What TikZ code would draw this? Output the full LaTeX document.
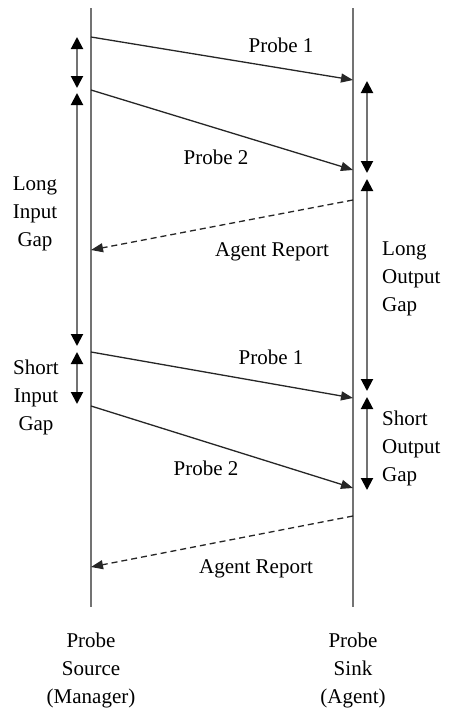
\documentclass[tikz,border=0pt]{standalone}
\usepackage{fontspec}
\setmainfont{Liberation Serif}
\usetikzlibrary{arrows.meta}
\begin{document}
\begin{tikzpicture}[x=1pt,y=-1pt,
  lifeline/.style={draw=black!55,line width=2pt},
  msg/.style={draw=black!85,line width=1.3pt,-{Triangle[length=12pt,width=9pt]}},
  report/.style={msg,dashed,dash pattern=on 6pt off 4pt},
  gap/.style={draw=black!55,line width=2pt,{Triangle[length=12pt,width=12pt,color=black]}-{Triangle[length=12pt,width=12pt,color=black]}},
  lbl/.style={font=\fontsize{21}{28}\selectfont,inner sep=0pt},
  gaplbl/.style={lbl,align=center},
  gaplblr/.style={lbl,align=left,anchor=west}]
\useasboundingbox[fill=white] (0,0) rectangle (448,712);
% lifelines
\coordinate (sTop) at (91,8);  \coordinate (sBot) at (91,607);
\coordinate (kTop) at (353,8); \coordinate (kBot) at (353,607);
\draw[lifeline] (sTop) -- (sBot);
\draw[lifeline] (kTop) -- (kBot);
% message end points
\coordinate (s1) at (91,37);  \coordinate (k1) at (353,80);
\coordinate (s2) at (91,90);  \coordinate (k2) at (353,170);
\coordinate (k3) at (353,200); \coordinate (s3) at (91,250);
\coordinate (s4) at (91,352); \coordinate (k4) at (353,398);
\coordinate (s5) at (91,406); \coordinate (k5) at (353,488);
\coordinate (k6) at (353,516); \coordinate (s6) at (91,567);
\draw[msg] (s1) -- (k1);
\draw[msg] (s2) -- (k2);
\draw[report] (k3) -- (s3);
\draw[msg] (s4) -- (k4);
\draw[msg] (s5) -- (k5);
\draw[report] (k6) -- (s6);
% message labels
\node[lbl] (p1a) at (281,45) {Probe 1};
\node[lbl] (p2a) at (216,157) {Probe 2};
\node[lbl] (ar1) at (272,252) {Agent Report};
\node[lbl] (p1b) at (271,357) {Probe 1};
\node[lbl] (p2b) at (206,468) {Probe 2};
\node[lbl] (ar2) at (256,569) {Agent Report};
% input gaps
\coordinate (ig1) at (77,37);  \coordinate (ig2) at (77,88);
\coordinate (ig3) at (77,93);  \coordinate (ig4) at (77,346);
\coordinate (ig5) at (77,352); \coordinate (ig6) at (77,404);
\draw[gap] (ig1) -- (ig2);
\draw[gap] (ig3) -- (ig4);
\draw[gap] (ig5) -- (ig6);
% output gaps
\coordinate (og1) at (367,81);  \coordinate (og2) at (367,173);
\coordinate (og3) at (367,179); \coordinate (og4) at (367,391);
\coordinate (og5) at (367,397); \coordinate (og6) at (367,490);
\draw[gap] (og1) -- (og2);
\draw[gap] (og3) -- (og4);
\draw[gap] (og5) -- (og6);
% gap labels
\node[gaplbl] (lig) at (35,214) {Long\\Input\\Gap};
\node[gaplbl] (sig) at (36,397) {Short\\Input\\Gap};
\node[gaplblr] (log) at (382,279) {Long\\Output\\Gap};
\node[gaplblr] (sog) at (382,448) {Short\\Output\\Gap};
% endpoint captions
\node[gaplbl] (src) at (91,670) {Probe\\Source\\(Manager)};
\node[gaplbl] (snk) at (353,670) {Probe\\Sink\\(Agent)};
\end{tikzpicture}
\end{document}
